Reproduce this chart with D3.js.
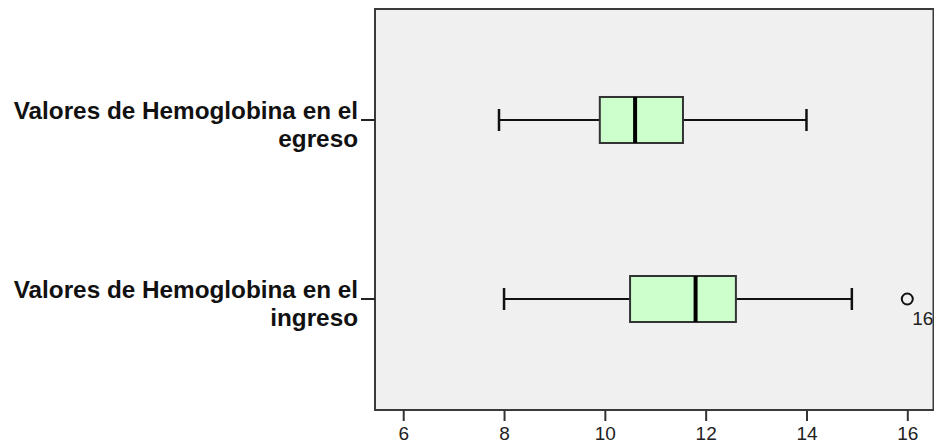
<!DOCTYPE html>
<html>
<head>
<meta charset="utf-8">
<script src="https://cdn.jsdelivr.net/npm/d3@7"></script>
<style>
  html, body { margin: 0; padding: 0; background: #ffffff; }
  svg { display: block; }
</style>
</head>
<body>
<svg id="chart" width="934" height="445"></svg>
<script>
// Hemoglobin values at discharge (egreso) and admission (ingreso)
const categories = ["egreso", "ingreso"];
const categoryLabels = [
  ["Valores de Hemoglobina en el", "egreso"],
  ["Valores de Hemoglobina en el", "ingreso"]
];
const whiskerLow  = [7.9, 8.0];
const q1          = [9.9, 10.5];
const median      = [10.6, 11.8];
const q3          = [11.55, 12.6];
const whiskerHigh = [14.0, 14.9];
const outlierCategory = ["ingreso"];
const outlierValue    = [16.0];
const outlierCase     = ["16"];
const xTicks = [6, 8, 10, 12, 14, 16];

const svg = d3.select("#chart");
const plot = { left: 375, right: 933.5, top: 9, bottom: 410 };

const x = d3.scaleLinear().domain([5.44, 16.52]).range([plot.left, plot.right]);
const y = d3.scalePoint().domain(categories).range([plot.top, plot.bottom]).padding(0.62);

const boxH = 46;
const capH = 22;

// plot background and frame
svg.append("rect")
  .attr("x", plot.left).attr("y", plot.top)
  .attr("width", plot.right - plot.left).attr("height", plot.bottom - plot.top)
  .attr("fill", "#f0f0f0")
  .attr("stroke", "#3a3a3a").attr("stroke-width", 2);

// bottom axis
const xAxis = d3.axisBottom(x).tickValues(xTicks).tickSize(11).tickPadding(6).tickFormat(d3.format("d"));
const gx = svg.append("g").attr("transform", `translate(0,${plot.bottom})`).call(xAxis);
gx.select(".domain").remove();
gx.selectAll(".tick line").attr("stroke", "#333").attr("stroke-width", 2);
gx.selectAll(".tick text")
  .attr("fill", "#222")
  .style("font-family", "'Liberation Sans', Arial, sans-serif")
  .style("font-size", "19px");

// left category ticks and labels
const gy = svg.append("g");
categories.forEach((c, i) => {
  const cy = y(c);
  gy.append("line")
    .attr("x1", plot.left - 14).attr("x2", plot.left)
    .attr("y1", cy).attr("y2", cy)
    .attr("stroke", "#222").attr("stroke-width", 2);
  const t = gy.append("text")
    .attr("text-anchor", "end")
    .attr("fill", "#111")
    .style("font-family", "'Liberation Sans', Arial, sans-serif")
    .style("font-weight", "bold")
    .style("font-size", "24.3px");
  categoryLabels[i].forEach((line, j) => {
    t.append("tspan")
      .attr("x", plot.left - 17)
      .attr("y", cy - 1 + j * 28)
      .text(line);
  });
});

// boxes
const boxes = svg.append("g").selectAll("g").data(categories).join("g");

boxes.append("line") // whisker shaft
  .attr("x1", (d, i) => x(whiskerLow[i])).attr("x2", (d, i) => x(whiskerHigh[i]))
  .attr("y1", d => y(d)).attr("y2", d => y(d))
  .attr("stroke", "#111").attr("stroke-width", 2);

boxes.append("line") // lower cap
  .attr("x1", (d, i) => x(whiskerLow[i])).attr("x2", (d, i) => x(whiskerLow[i]))
  .attr("y1", d => y(d) - capH / 2).attr("y2", d => y(d) + capH / 2)
  .attr("stroke", "#111").attr("stroke-width", 2.5);

boxes.append("line") // upper cap
  .attr("x1", (d, i) => x(whiskerHigh[i])).attr("x2", (d, i) => x(whiskerHigh[i]))
  .attr("y1", d => y(d) - capH / 2).attr("y2", d => y(d) + capH / 2)
  .attr("stroke", "#111").attr("stroke-width", 2.5);

boxes.append("rect")
  .attr("x", (d, i) => x(q1[i]))
  .attr("width", (d, i) => x(q3[i]) - x(q1[i]))
  .attr("y", d => y(d) - boxH / 2)
  .attr("height", boxH)
  .attr("fill", "#ccffcc")
  .attr("stroke", "#333").attr("stroke-width", 2);

boxes.append("line") // median
  .attr("x1", (d, i) => x(median[i])).attr("x2", (d, i) => x(median[i]))
  .attr("y1", d => y(d) - boxH / 2).attr("y2", d => y(d) + boxH / 2)
  .attr("stroke", "#000").attr("stroke-width", 4);

// outliers with case labels
const outG = svg.append("g");
outlierValue.forEach((v, k) => {
  const cy = y(outlierCategory[k]);
  outG.append("circle")
    .attr("cx", x(v)).attr("cy", cy).attr("r", 5.5)
    .attr("fill", "none").attr("stroke", "#111").attr("stroke-width", 2);
  outG.append("text")
    .attr("x", x(v) + 5).attr("y", cy + 26)
    .attr("fill", "#222")
    .style("font-family", "'Liberation Sans', Arial, sans-serif")
    .style("font-size", "19px")
    .text(outlierCase[k]);
});
</script>
</body>
</html>
